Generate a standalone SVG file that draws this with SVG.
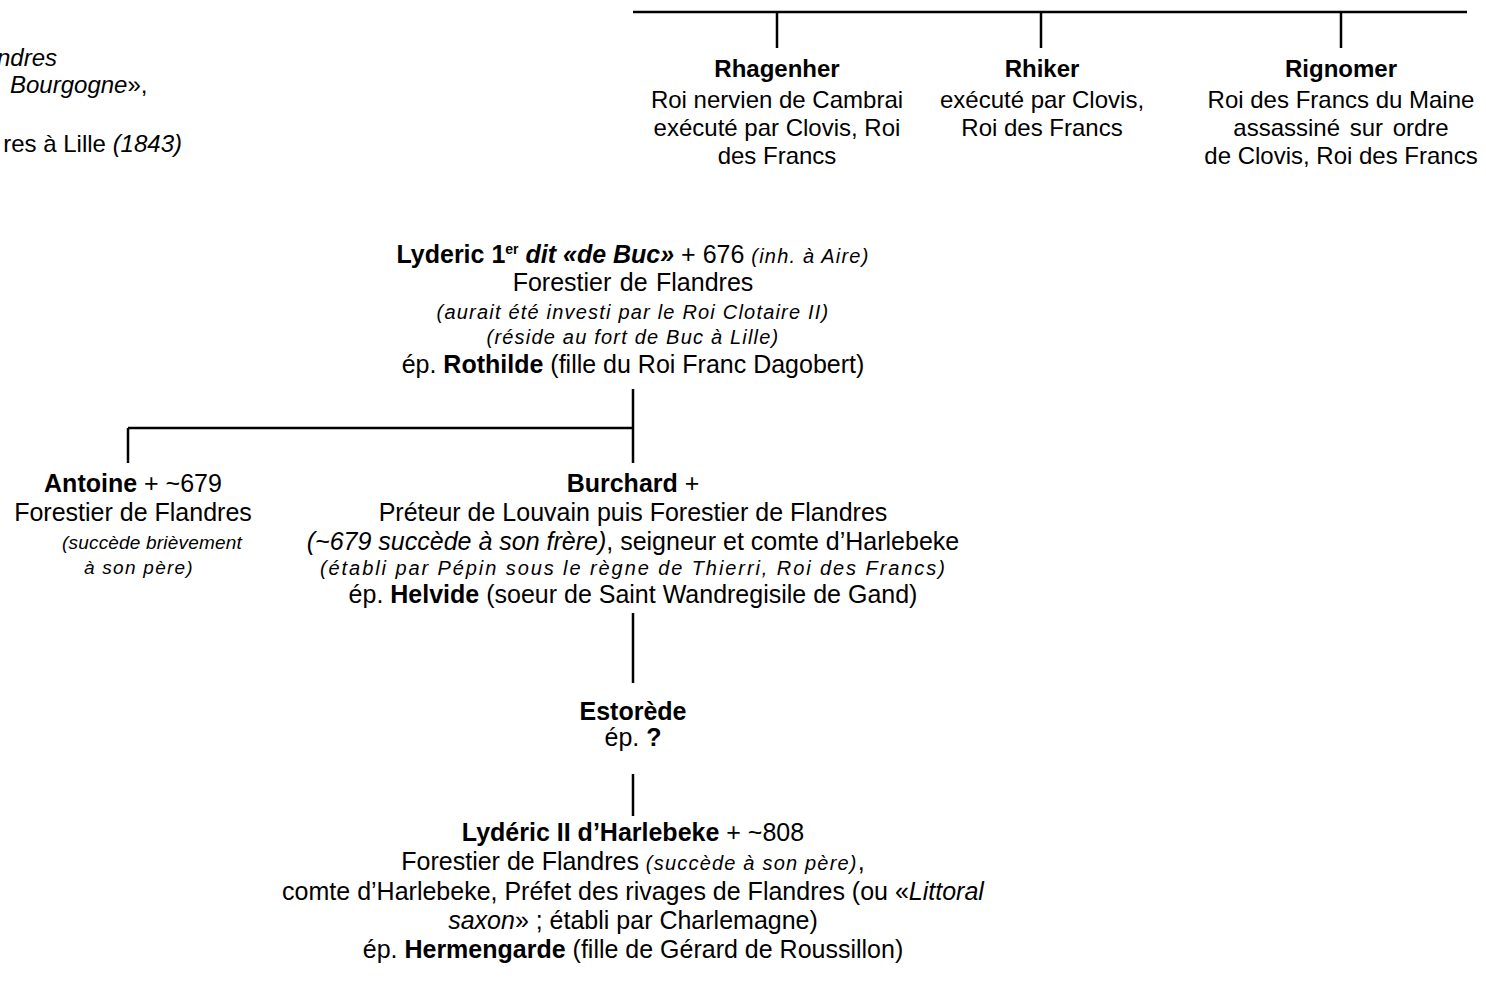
<svg xmlns="http://www.w3.org/2000/svg" width="1486" height="991" viewBox="0 0 1486 991">
<style>
text{font-family:"Liberation Sans",Arial,sans-serif;fill:#000;text-anchor:middle;font-size:25px}
.tp{font-size:24px}
.b{font-weight:bold}
.i{font-style:italic}
.sm{font-size:20px;font-style:italic;letter-spacing:1.2px}
.sa{font-size:19px;font-style:italic;letter-spacing:0.3px}
.st{text-anchor:start}
.en{text-anchor:end}
.c line{stroke:#000;stroke-width:2.5}
</style>
<rect width="1486" height="991" fill="#fff"/>
<g id="connectors" class="c">
<line x1="633" y1="12" x2="1467" y2="12"/>
<line x1="777" y1="12" x2="777" y2="48"/>
<line x1="1041" y1="12" x2="1041" y2="48"/>
<line x1="1341" y1="12" x2="1341" y2="48"/>
<line x1="633" y1="389" x2="633" y2="463"/>
<line x1="128" y1="428" x2="633" y2="428"/>
<line x1="128" y1="428" x2="128" y2="463"/>
<line x1="633" y1="613" x2="633" y2="683"/>
<line x1="633" y1="774" x2="633" y2="816"/>
</g>
<g id="source">
<text x="57" y="66" class="tp i en">ndres</text>
<text x="10" y="93" class="tp st"><tspan class="i">Bourgogne</tspan>»,</text>
<text x="182" y="152" class="tp en">res à Lille <tspan class="i">(1843)</tspan></text>
</g>
<g id="rhagenher">
<text x="777" y="77" class="tp b">Rhagenher</text>
<text x="777" y="108" class="tp">Roi nervien de Cambrai</text>
<text x="777" y="136" class="tp">exécuté par Clovis, Roi</text>
<text x="777" y="164" class="tp">des Francs</text>
</g>
<g id="rhiker">
<text x="1042" y="77" class="tp b">Rhiker</text>
<text x="1042" y="108" class="tp">exécuté par Clovis,</text>
<text x="1042" y="136" class="tp">Roi des Francs</text>
</g>
<g id="rignomer">
<text x="1341" y="77" class="tp b">Rignomer</text>
<text x="1341" y="108" class="tp">Roi des Francs du Maine</text>
<text x="1341" y="136" class="tp" style="word-spacing:3px">assassiné sur ordre</text>
<text x="1341" y="164" class="tp">de Clovis, Roi des Francs</text>
</g>
<g id="lyderic1">
<text x="633" y="263"><tspan class="b">Lyderic 1</tspan><tspan class="b" style="font-size:14px" dy="-9">er</tspan><tspan dy="9"> </tspan><tspan class="b i">dit «de Buc»</tspan> + 676 <tspan class="sm">(inh. à Aire)</tspan></text>
<text x="633" y="291" style="word-spacing:1.5px">Forestier de Flandres</text>
<text x="633" y="319" class="sm">(aurait été investi par le Roi Clotaire II)</text>
<text x="633" y="344" class="sm">(réside au fort de Buc à Lille)</text>
<text x="633" y="373">ép. <tspan class="b">Rothilde</tspan> (fille du Roi Franc Dagobert)</text>
</g>
<g id="antoine">
<text x="133" y="492"><tspan class="b">Antoine</tspan> + ~679</text>
<text x="133" y="521">Forestier de Flandres</text>
<text x="62" y="549" class="sa st" textLength="180" lengthAdjust="spacing">(succède brièvement</text>
<text x="84" y="574" class="sa st" textLength="109" lengthAdjust="spacing">à son père)</text>
</g>
<g id="burchard">
<text x="633" y="492"><tspan class="b">Burchard</tspan> +</text>
<text x="633" y="521">Préteur de Louvain puis Forestier de Flandres</text>
<text x="633" y="550"><tspan class="i">(~679 succède à son frère)</tspan>, seigneur et comte d’Harlebeke</text>
<text x="633" y="575" class="sm" textLength="626" lengthAdjust="spacing">(établi par Pépin sous le règne de Thierri, Roi des Francs)</text>
<text x="633" y="603">ép. <tspan class="b">Helvide</tspan> (soeur de Saint Wandregisile de Gand)</text>
</g>
<g id="estorede">
<text x="633" y="720" class="b">Estorède</text>
<text x="633" y="746">ép. <tspan class="b">?</tspan></text>
</g>
<g id="lyderic2">
<text x="633" y="841"><tspan class="b">Lydéric II d’Harlebeke</tspan> + ~808</text>
<text x="633" y="870">Forestier de Flandres <tspan class="sm">(succède à son père)</tspan>,</text>
<text x="633" y="900">comte d’Harlebeke, Préfet des rivages de Flandres (ou «<tspan class="i">Littoral</tspan></text>
<text x="633" y="929"><tspan class="i">saxon</tspan>» ; établi par Charlemagne)</text>
<text x="633" y="958">ép. <tspan class="b">Hermengarde</tspan> (fille de Gérard de Roussillon)</text>
</g>
</svg>
